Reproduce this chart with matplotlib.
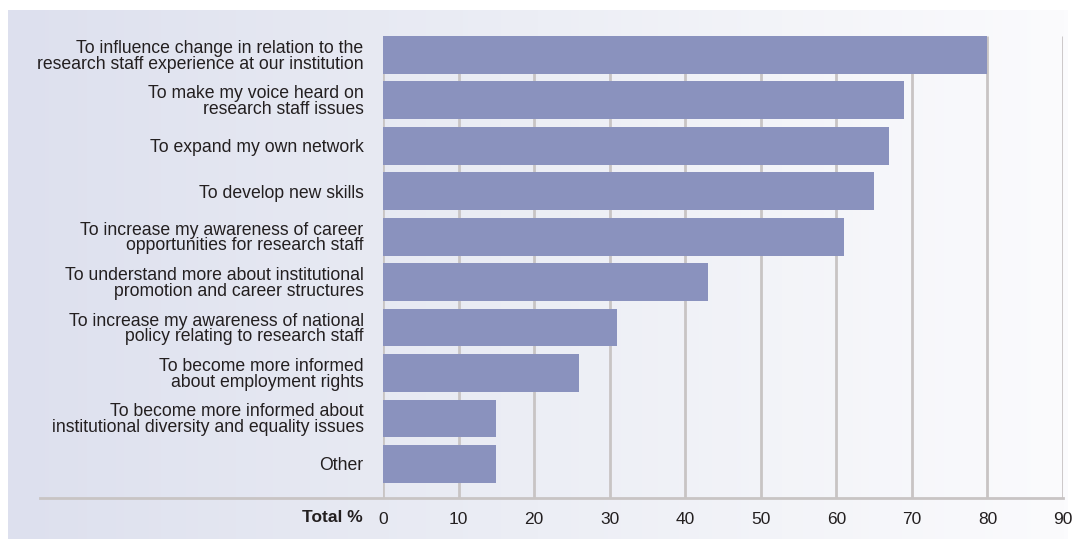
import numpy as np
import matplotlib.pyplot as plt
from matplotlib.colors import LinearSegmentedColormap
from matplotlib.lines import Line2D

plt.rcParams['font.family'] = ['Liberation Sans', 'DejaVu Sans']

# Data
categories = [
    "To influence change in relation to the\nresearch staff experience at our institution",
    "To make my voice heard on\nresearch staff issues",
    "To expand my own network",
    "To develop new skills",
    "To increase my awareness of career\nopportunities for research staff",
    "To understand more about institutional\npromotion and career structures",
    "To increase my awareness of national\npolicy relating to research staff",
    "To become more informed\nabout employment rights",
    "To become more informed about\ninstitutional diversity and equality issues",
    "Other",
]
values = [80, 69, 67, 65, 61, 43, 31, 26, 15, 15]
xticks = [0, 10, 20, 30, 40, 50, 60, 70, 80, 90]

W, H = 1084, 539
fig = plt.figure(figsize=(W / 100, H / 100), dpi=100)
fig.patch.set_facecolor('white')

# gradient background panel
bg = fig.add_axes([8 / W, 0, (1068 - 8) / W, 1 - 10 / H], zorder=0)
cmap = LinearSegmentedColormap.from_list('bg', ['#dde0ee', '#eceef5', '#fbfbfd'])
bg.imshow(np.linspace(0, 1, 256)[None, :], aspect='auto', cmap=cmap, extent=[0, 1, 0, 1])
bg.set_axis_off()

# main axes
ax = fig.add_axes([383 / W, 1 - 498 / H, (1063 - 383) / W, (498 - 36) / H], zorder=1)
ax.patch.set_alpha(0)

y = np.arange(len(categories))
bar_h = 0.83
ax.set_xlim(0, 90)
ax.set_ylim(9.75, -bar_h / 2)

grid_col = '#c8c4c4'
ax.vlines(xticks, -bar_h / 2, 9.75, color=grid_col, linewidth=2, zorder=1)
ax.barh(y, values, height=bar_h, color='#8a92be', zorder=2)

for s in ax.spines.values():
    s.set_visible(False)

ax.set_yticks(y)
ax.set_yticklabels(categories, fontsize=12.7, color='#231f20', linespacing=0.9)
ax.tick_params(axis='y', length=0, pad=14)
ax.set_xticks(xticks)
ax.set_xticklabels([str(t) for t in xticks], fontsize=12.5, color='#231f20')
ax.tick_params(axis='x', length=0, pad=10)

# bottom axis line extending to the left
fig.add_artist(Line2D([40 / W, 1063 / W], [1 - 498 / H, 1 - 498 / H],
                      color=grid_col, linewidth=2, zorder=3))

fig.text(363 / W, 1 - 517 / H, 'Total %', fontsize=12.5, fontweight='bold',
         color='#231f20', ha='right', va='center')

fig.savefig('out.png', dpi=100)
